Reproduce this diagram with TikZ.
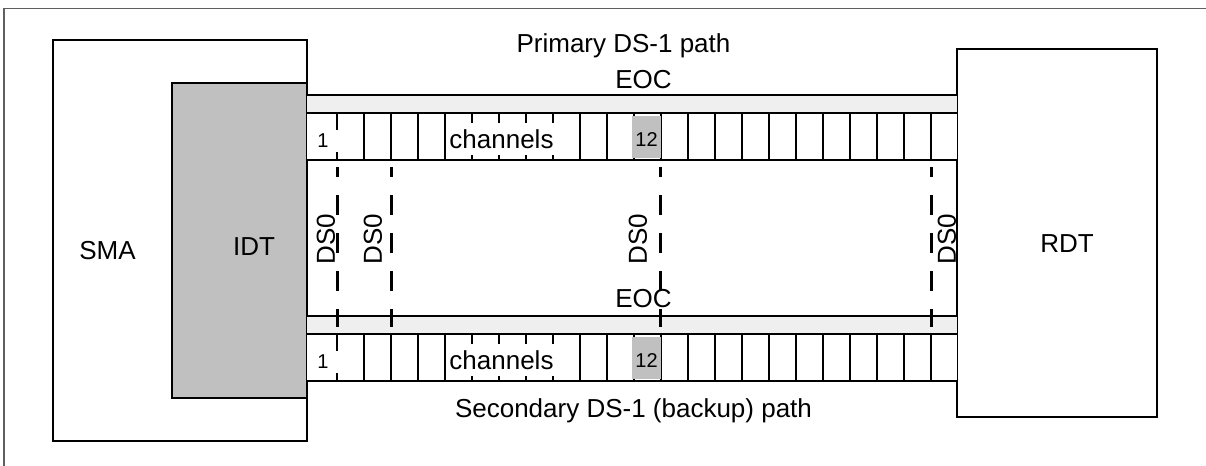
\documentclass[tikz,border=0pt]{standalone}
\usepackage{fontspec}
\setmainfont{Liberation Sans}
\definecolor{idtgray}{HTML}{C0C0C0}
\definecolor{eocgray}{HTML}{EFEFEF}
\definecolor{framegray}{HTML}{606060}

\begin{document}
\begin{tikzpicture}[x=0.5pt, y=-0.5pt,
    unit/.style ={draw, line width=1pt},
    lbl/.style ={font=\fontsize{13}{15}\selectfont, inner sep=0pt},
    small/.style ={font=\fontsize{10}{12}\selectfont, inner sep=0pt},
    chanbox/.style ={fill=white, inner sep=0pt},
    link/.style ={line width=1.5pt, dash pattern=on 10pt off 9pt, dash phase=5pt}]
   \useasboundingbox (0,0) rectangle (1206,466);
   \draw[framegray, line width=0.6pt] (4,466) -- (4,8.3) -- (1206,8.3);
   \draw[unit, fill=white] (52.7,40) rectangle (307,441);
   \draw[unit, fill=idtgray] (172,83) rectangle (307,398);
   \draw[unit, fill=white] (957,49) rectangle (1157,417);
   \node[lbl, anchor=base] (sma) at (107.5,259) {SMA};
   \node[lbl, anchor=base] (idt) at (254,255) {IDT};
   \node[lbl, anchor=base] (rdt) at (1067,252) {RDT};
   \foreach \y/\r in {95/p,316/s} {
     \fill[eocgray] (307,\y) rectangle (957,\y+18);
     \fill[white] (307,\y+18) rectangle (957,\y+65);
     \draw[line width=1pt] (307,\y) -- (957,\y) (307,\y+18) -- (957,\y+18)
       (307,\y+65) -- (957,\y+65);
     \foreach \k in {0,...,22}
       \draw[line width=0.8pt] (337+27*\k,\y+18) -- (337+27*\k,\y+65);
     \fill[idtgray] (632,\y+21) rectangle (661,\y+63);
     \node[small] (\r12) at (646.5,\y+45) {12};
     \node[small, chanbox, minimum width=15pt, minimum height=11pt] (\r1) at (323,\y+46) {1};
     \node[lbl, chanbox, minimum width=55.5pt, minimum height=16pt] (\r ch) at (501.5,\y+44) {channels};
   }
   \foreach \x/\n in {337/a,391/b,660/c,931/d} {
     \coordinate (\n top) at (\x,167);
     \coordinate (\n bot) at (\x,327);
     \draw[link] (\n top) -- (\n bot);
   }
   \node[lbl, rotate=90] (ds0a) at (326,239) {DS0};
   \node[lbl, rotate=90] (ds0b) at (373,239) {DS0};
   \node[lbl, rotate=90] (ds0c) at (638,239) {DS0};
   \node[lbl, rotate=90] (ds0d) at (947,239) {DS0};
   \node[lbl, anchor=base] (eocp) at (643.5,88) {EOC};
   \node[lbl, anchor=base] (eocs) at (643.5,307) {EOC};
   \node[lbl, anchor=base] (pri) at (623.5,52) {Primary DS-1 path};
   \node[lbl, anchor=base] (sec) at (633.5,417) {Secondary DS-1 (backup) path};
 \end{tikzpicture}
\end{document}
